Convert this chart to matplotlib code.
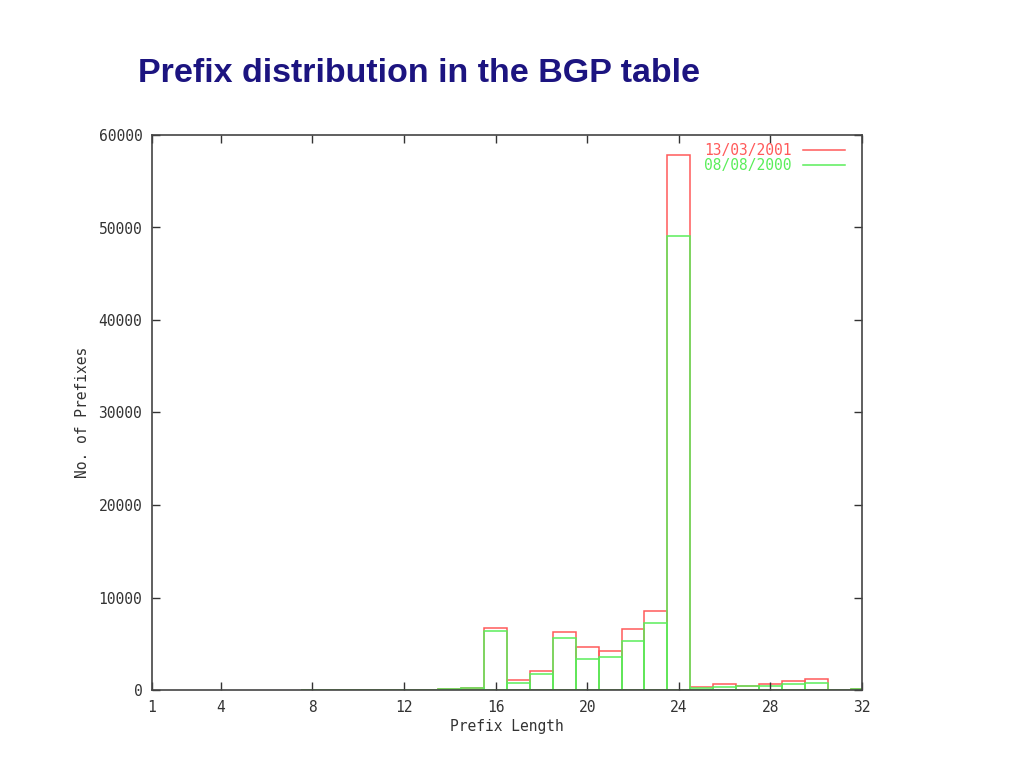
import matplotlib
matplotlib.use("Agg")
import matplotlib.pyplot as plt
from matplotlib.lines import Line2D

# prefix length 8..32, counts
prefix_len = list(range(8, 33))
mar_2001 = [0, 0, 0, 0, 0, 20, 100, 250, 6700, 1050, 2020, 6270, 4650, 4220,
            6590, 8540, 57840, 290, 620, 480, 620, 1010, 1150, 0, 150]
aug_2000 = [0, 0, 0, 0, 0, 20, 100, 250, 6400, 760, 1690, 5580, 3390, 3530,
            5330, 7280, 49110, 260, 320, 460, 460, 680, 740, 0, 150]
x_ticks = [1, 4, 8, 12, 16, 20, 24, 28, 32]
y_ticks = [0, 10000, 20000, 30000, 40000, 50000, 60000]

red = "#ff5a5a"
green = "#5aee5a"
mono = "DejaVu Sans Mono"
fs = 10.5

fig = plt.figure(figsize=(10.24, 7.68), dpi=100)
fig.text(138/1024, 1 - 73/768, "Prefix distribution in the BGP table",
         fontsize=24.5, fontweight="bold", color="#1c1480",
         family="Liberation Sans", va="center", ha="left")

ax = fig.add_axes([152/1024, 78/768, 710/1024, 555/768])
# gnuplot "boxes": every bar is an open outline, newer snapshot drawn first
ax.bar(prefix_len, mar_2001, width=1.0, fill=False, edgecolor=red, lw=1.1)
ax.bar(prefix_len, aug_2000, width=1.0, fill=False, edgecolor=green, lw=1.1)

ax.set_xlim(1, 32)
ax.set_ylim(0, 60000)
ax.set_xticks(x_ticks)
ax.set_yticks(y_ticks)
ax.tick_params(direction="in", length=6, top=True, right=True,
               labelsize=fs, colors="#333333", width=1, pad=7)
for lab in ax.get_xticklabels() + ax.get_yticklabels():
    lab.set_family(mono)
for sp in ax.spines.values():
    sp.set_color("#444444")
    sp.set_linewidth(1.2)

ax.set_xlabel("Prefix Length", family=mono, fontsize=fs, color="#333333", labelpad=3)
ax.set_ylabel("No. of Prefixes", family=mono, fontsize=fs, color="#333333", labelpad=6)

handles = [Line2D([], [], color=red, lw=1.1), Line2D([], [], color=green, lw=1.1)]
leg = ax.legend(handles, ["13/03/2001", "08/08/2000"], loc="upper right",
                bbox_to_anchor=(1 - 17/710, 1 - 8/555),
                frameon=False, markerfirst=False, handlelength=2.9,
                prop={"family": mono, "size": fs}, labelspacing=0.0,
                borderaxespad=0, borderpad=0, handletextpad=0.75)
for txt, c in zip(leg.get_texts(), [red, green]):
    txt.set_color(c)

fig.savefig("out.png", dpi=100)
